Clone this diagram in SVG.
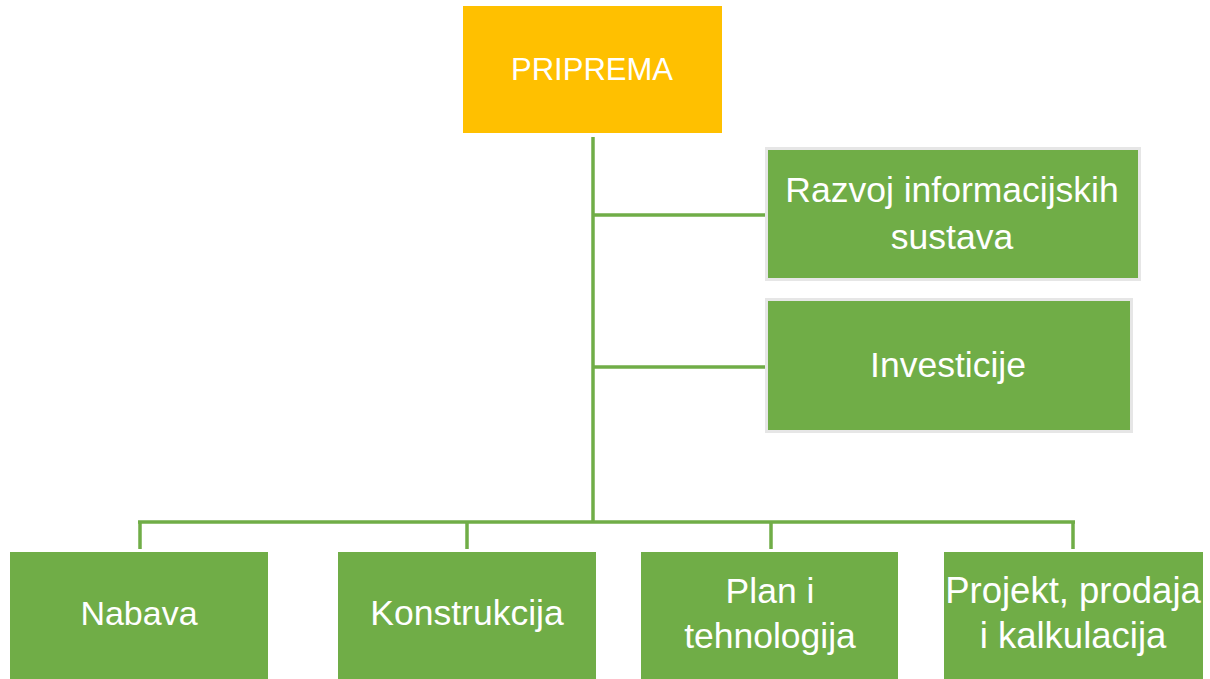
<svg xmlns="http://www.w3.org/2000/svg" width="1210" height="679" viewBox="0 0 1210 679">
<style>
.g{fill:#70AD47}
.b{fill:#70AD47;stroke:#E6E6E6;stroke-width:3}
.t{font-family:"Liberation Sans",Arial,sans-serif;font-size:35.5px;fill:#FFFFFF;text-anchor:middle}
.c{stroke:#70AD47;stroke-width:3.5;fill:none}
</style>
<rect width="1210" height="679" fill="#FFFFFF"/>
<g id="connectors">
<path class="c" d="M593 137V522"/>
<path class="c" d="M593 215H766"/>
<path class="c" d="M593 367H766"/>
<path class="c" d="M138 522H1075M140 522V549M467 522V549M771 522V549M1073 522V549"/>
</g>
<g id="priprema">
<rect x="463" y="6" width="259" height="127" fill="#FFC000"/>
<text class="t" x="592" y="80" style="font-size:31px">PRIPREMA</text>
</g>
<g id="razvoj">
<rect class="b" x="766.5" y="148.5" width="373" height="131"/>
<text class="t" x="952" y="202">Razvoj informacijskih</text>
<text class="t" x="952" y="249">sustava</text>
</g>
<g id="investicije">
<rect class="b" x="766.5" y="299.5" width="365" height="132"/>
<text class="t" x="948" y="377">Investicije</text>
</g>
<g id="nabava">
<rect class="g" x="10" y="552" width="258" height="140"/>
<text class="t" x="139" y="625" style="font-size:34px">Nabava</text>
</g>
<g id="konstrukcija">
<rect class="g" x="338" y="552" width="258" height="140"/>
<text class="t" x="467" y="625">Konstrukcija</text>
</g>
<g id="plan">
<rect class="g" x="641" y="552" width="257" height="140"/>
<text class="t" x="770" y="603">Plan i</text>
<text class="t" x="770" y="648">tehnologija</text>
</g>
<g id="projekt">
<rect class="g" x="944" y="552" width="259" height="140"/>
<text class="t" x="1073" y="603" style="font-size:36.5px">Projekt, prodaja</text>
<text class="t" x="1073" y="648" style="font-size:36.5px">i kalkulacija</text>
</g>
</svg>
